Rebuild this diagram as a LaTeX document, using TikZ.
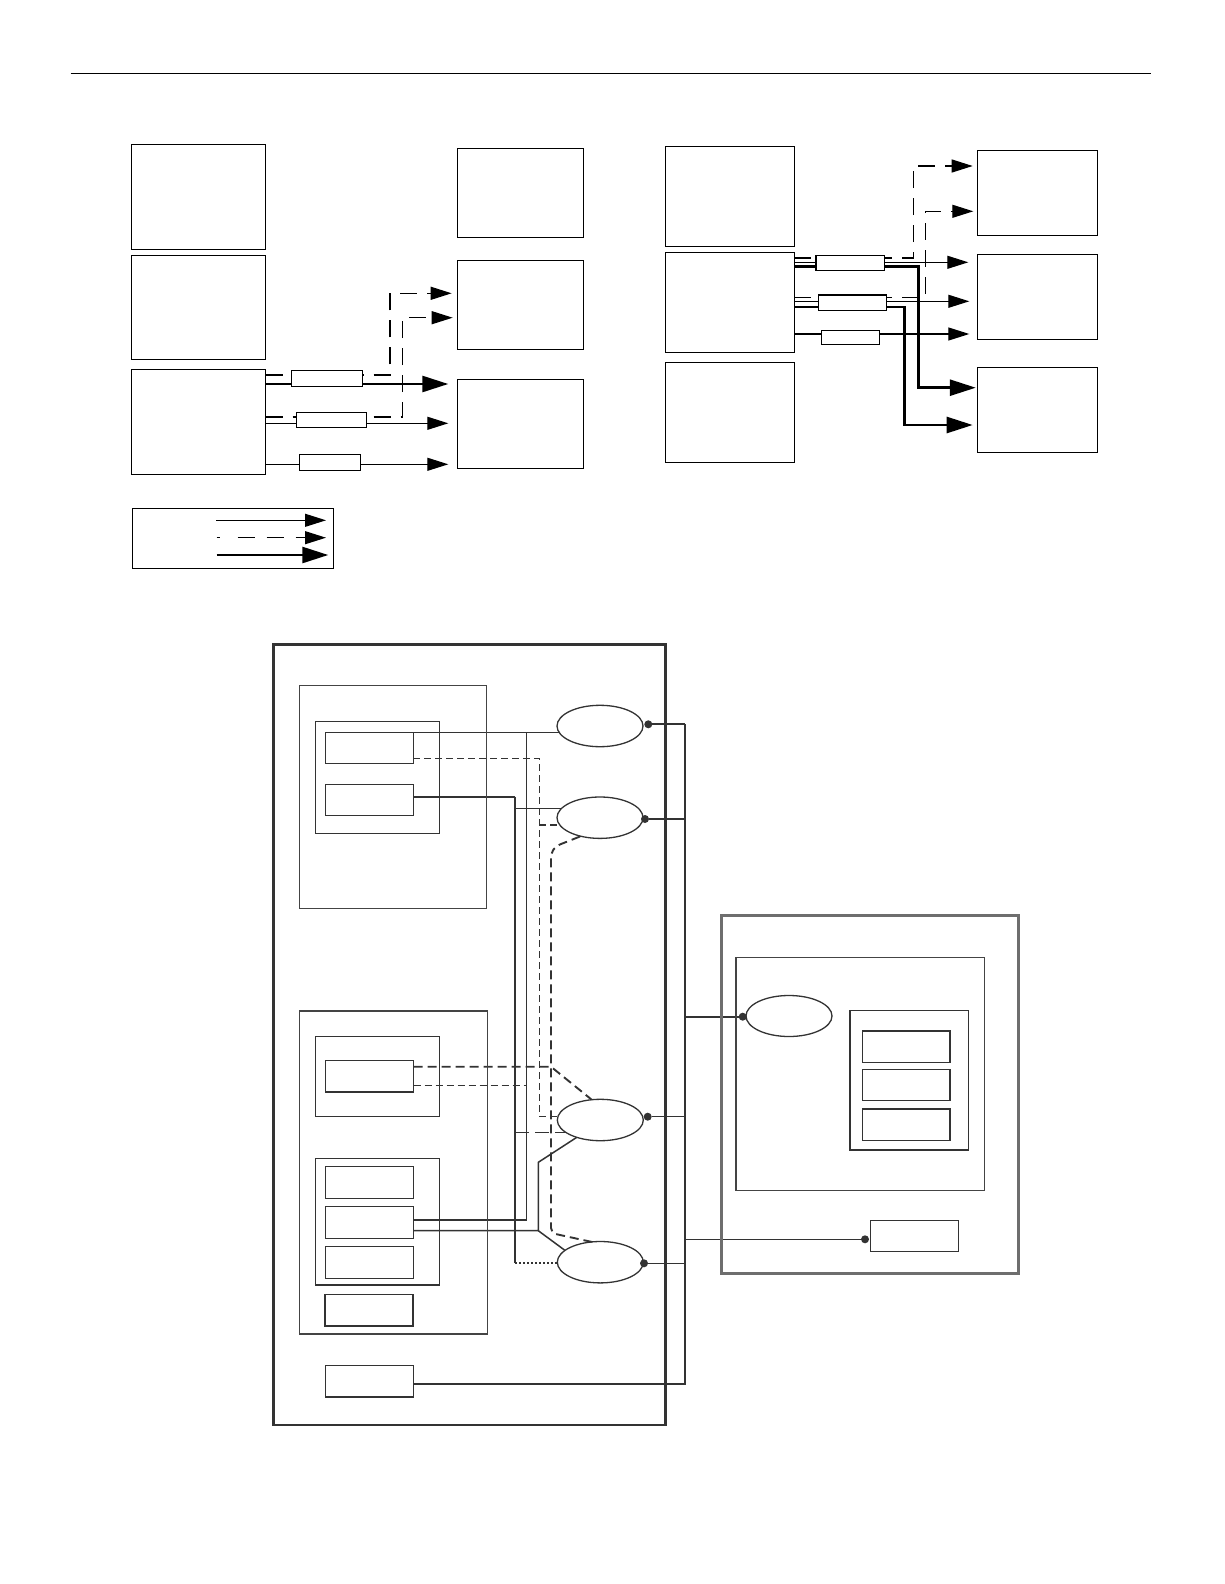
\documentclass[tikz,border=0pt]{standalone}
\usetikzlibrary{arrows.meta,shapes.geometric,calc}
\pgfdeclarelayer{bg}
\pgfsetlayers{bg,main}
\definecolor{dk}{HTML}{333333}
\definecolor{md}{HTML}{444444}
\definecolor{gr}{HTML}{6E6E6E}
\begin{document}
\begin{tikzpicture}[x=1pt,y=-1pt,
  every node/.style={inner sep=0pt,outer sep=0pt},
  sz/.style 2 args={minimum width=#1pt,minimum height=#2pt},
  bigbox/.style={draw=black,line width=1.3pt,rectangle},
  lab/.style={draw=black,line width=1.2pt,fill=white,rectangle},
  thinln/.style={line width=1.2pt},
  thkln/.style={line width=2.6pt},
  dshln/.style={line width=1.2pt,dash pattern=on 17pt off 10pt},
  tipA/.style={-{Triangle[length=21pt,width=13pt]}},
  tipB/.style={-{Triangle[length=26pt,width=16pt]}},
  rbox/.style={draw=dk,line width=1.5pt,rectangle},
  ell/.style={ellipse,draw=dk,line width=1.3pt,minimum width=86pt,minimum height=41.4pt},
  dot/.style={circle,fill=dk,minimum size=8pt},
  ln/.style={draw=dk,line width=1.2pt},
  dshB/.style={draw=dk,line width=1.2pt,dash pattern=on 7pt off 4pt},
  dshT/.style={draw=dk,line width=1.9pt,dash pattern=on 9pt off 5pt},
  ldsh/.style={draw=dk,line width=1.3pt,dash pattern=on 14pt off 6pt},
  dotln/.style={draw=dk,line width=2pt,dash pattern=on 2.4pt off 1.6pt}
]
\useasboundingbox (0,0) rectangle (1224,1584);
% top rule
\draw[line width=0.9pt] (70.7,73.7) -- (1151.3,73.7);

% ---------- top-left ----------
\node[bigbox,sz={134.4}{105}] (A1) at (198.5,196.8) {};
\node[bigbox,sz={134.4}{104}] (A2) at (198.5,307.3) {};
\node[bigbox,sz={134.4}{105}] (A3) at (198.5,421.8) {};
\node[bigbox,sz={126.4}{89}] (B1) at (520.5,192.8) {};
\node[bigbox,sz={126.4}{89}] (B2) at (520.5,304.8) {};
\node[bigbox,sz={126.4}{89}] (B3) at (520.5,423.8) {};
\node[lab,sz={71}{16}] (r1) at (326.8,378.3) {};
\node[lab,sz={70.4}{15}] (r2) at (331.5,419.8) {};
\node[lab,sz={61.4}{16}] (r3) at (330,462.3) {};
\begin{pgfonlayer}{bg}
\draw[dshln,tipA,shorten >=5.6pt] (A3.east |- 0,375) -| (390,293.3) -- (B2.west |- 0,293.3);
\draw[thkln,tipB,shorten >=9pt] (A3.east |- 0,384) -- (B3.west |- 0,384);
\draw[dshln,tipA,shorten >=4.6pt] (A3.east |- 0,417) -| (402.7,317.7) -- (B2.west |- 0,317.7);
\draw[thinln,tipA,shorten >=9pt] (A3.east |- 0,423.3) -- (B3.west |- 0,423.3);
\draw[thinln,tipA,shorten >=9pt] (A3.east |- 0,464.3) -- (B3.west |- 0,464.3);
\end{pgfonlayer}

% ---------- top-right ----------
\node[bigbox,sz={129}{100}] (C1) at (729.8,196.3) {};
\node[bigbox,sz={129}{99.6}] (C2) at (729.8,302.5) {};
\node[bigbox,sz={129}{100}] (C3) at (729.8,412.3) {};
\node[bigbox,sz={120}{85}] (D1) at (1037.3,192.8) {};
\node[bigbox,sz={120}{85}] (D2) at (1037.3,296.8) {};
\node[bigbox,sz={120}{85}] (D3) at (1037.3,409.8) {};
\node[lab,sz={68.3}{15}] (s1) at (850.2,262.8) {};
\node[lab,sz={68.4}{15.3}] (s2) at (852.5,302.7) {};
\node[lab,sz={58}{14}] (s3) at (850.3,337.3) {};
\begin{pgfonlayer}{bg}
\draw[dshln,tipA,shorten >=4.6pt] (C2.east |- 0,258) -| (913.3,166) -- (D1.west |- 0,166);
\draw[thinln,tipA,shorten >=9pt] (C2.east |- 0,262.3) -- (D2.west |- 0,262.3);
\draw[thkln,tipB,shorten >=1.5pt] (C2.east |- 0,266.3) -| (918.7,387.7) -- (D3.west |- 0,387.7);
\draw[dshln,tipA,shorten >=4pt] (C2.east |- 0,297.7) -| (925.3,211.3) -- (D1.west |- 0,211.3);
\draw[thinln,tipA,shorten >=8pt] (C2.east |- 0,301.3) -- (D2.west |- 0,301.3);
\draw[thkln,tipB,shorten >=4.6pt] (C2.east |- 0,307) -| (904.3,425) -- (D3.west |- 0,425);
\draw[thinln,tipA,shorten >=8pt] (C2.east |- 0,334) -- (D2.west |- 0,334);
\end{pgfonlayer}

% ---------- legend ----------
\node[bigbox,sz={200.6}{60}] (LG) at (233,538.3) {};
\draw[thinln,tipA] (216,520.3) -- (326,520.3);
\draw[dshln,dash pattern=on 3pt off 18pt on 17pt off 12pt on 17pt off 12pt on 17pt off 3pt,tipA] (216.7,537.7) -- (326,537.7);
\draw[thkln,tipB] (216.7,555) -- (328.3,555);

% ---------- bottom-left system ----------
\node[draw=dk,line width=2.5pt,sz={392}{780.7}] (E) at (469.7,1034.7) {};
\node[draw=md,line width=1.2pt,sz={187}{223}] (F) at (393.2,796.8) {};
\node[rbox,sz={124}{112.4}] (G) at (377.3,777.5) {};
\node[rbox,sz={87.6}{31}] (g1) at (369.5,748.2) {};
\node[rbox,sz={87.6}{31}] (g2) at (369.5,800.2) {};
\node[draw=md,line width=1.2pt,sz={188.4}{323}] (K) at (393.5,1172.5) {};
\node[rbox,sz={123.6}{80}] (L) at (377.5,1076.7) {};
\node[rbox,sz={88.4}{31.3}] (l1) at (369.5,1076.3) {};
\node[rbox,sz={123.6}{126.7}] (M) at (377.5,1221.7) {};
\node[rbox,sz={88.4}{31.6}] (m1) at (369.5,1182.5) {};
\node[rbox,sz={88.4}{31.6}] (m2) at (369.5,1222.5) {};
\node[rbox,sz={88.4}{31.6}] (m3) at (369.5,1262.5) {};
\node[rbox,sz={88}{31.7}] (n1) at (369,1310.2) {};
\node[rbox,sz={88}{31.3}] (k1) at (369.7,1381.3) {};
\node[ell] (e1) at (600,726) {};
\node[ell] (e2) at (600,817.7) {};
\node[ell] (e3) at (600.3,1120) {};
\node[ell] (e4) at (600.3,1262.2) {};
\node[dot] (d1) at (648.3,724.3) {};
\node[dot] (d2) at (645,819) {};
\node[dot] (d3) at (647.7,1116.7) {};
\node[dot] (d4) at (644,1263.3) {};

% ---------- right system ----------
\node[draw=gr,line width=3pt,sz={297.3}{358.3}] (H) at (870.3,1094.2) {};
\node[draw=md,line width=1.3pt,sz={248.3}{233.4}] (I) at (860.2,1074) {};
\node[ell,minimum height=41pt] (e5) at (789,1016) {};
\node[rbox,sz={118.3}{139.3}] (J) at (909.2,1080.3) {};
\node[rbox,sz={87.7}{31.3}] (j1) at (906.2,1046.7) {};
\node[rbox,sz={87.7}{31.3}] (j2) at (906.2,1085) {};
\node[rbox,sz={87.7}{31.3}] (j3) at (906.2,1124.7) {};
\node[rbox,sz={88}{31}] (q1) at (914.3,1235.8) {};
\node[dot] (d5) at (742.7,1016.7) {};
\node[dot] (d6) at (865,1239.3) {};

% bus coordinates
\coordinate (b1) at (685,724.3);
\coordinate (b2) at (685,819);
\coordinate (b5) at (685,1016.7);
\coordinate (bm) at (685,1101.7);
\coordinate (b3) at (685,1116.7);
\coordinate (b6) at (685,1239.3);
\coordinate (b4) at (685,1263.3);
\coordinate (bk) at (685,1384);

\begin{pgfonlayer}{bg}
% bus
\draw[draw=dk,line width=2pt] (b1) -- (bm);
\draw[draw=dk,line width=1.3pt] (bm) -- (bk) -- (k1.east |- bk);
\draw[draw=dk,line width=1.9pt] (d1) -- (b1);
\draw[draw=dk,line width=2pt] (d2) -- (b2);
\draw[draw=dk,line width=1.2pt] (d3) -- (b3);
\draw[draw=dk,line width=1.6pt] (d4) -- (b4);
\draw[draw=dk,line width=2.2pt] (b5) -- (d5);
\draw[draw=dk,line width=1.2pt] (b6) -- (d6);

% g1 -> e1, vertical to m2
\draw[ln] (g1.north east) -- (558.8,732.7);
\draw[ln,line width=1.5pt] (526.7,732.7) |- ($(m2.east)+(0,-2.5)$);
% g1 dashed -> e2, e3
\draw[dshB] ($(g1.east)+(0,10.1)$) -| (539.3,1116.7) -- (e3.west |- 0,1116.7);
\draw[dshB] (539.3,825) -- (559.8,825);
% g2 -> e2, e3, e4
\draw[ln,line width=1.9pt] ($(g2.east)+(0,-3.5)$) -- (515,796.7);
\draw[ln,line width=1.5pt] (515,796.7) -- (515,1263.3);
\draw[ln] (515,808.3) -- (561.7,808.3);
\draw[ldsh] (515,1132.3) -- (565.7,1132.3);
\draw[dotln] (515,1263.3) -- (e4.west |- 0,1263.3);
% l1 dashed
\draw[dshT] ($(l1.east)+(0,-9.6)$) -- (551,1066.7) -- (591.7,1099.7);
\draw[dshB] ($(l1.east)+(0,9)$) -- (526.7,1085.3);
% e2 -> e4 dashed
\draw[dshT,rounded corners=5pt] (580,836.5) -- (556,846) -- (551,853) -- (551,1233) -- (591.7,1241.9);
% m2 -> e3, e4
\draw[ln,line width=1.5pt] ($(m2.east)+(0,8.2)$) -- (538.3,1230.7) -- (538.3,1162.3) -- (576.5,1137.5);
\draw[ln,line width=1.5pt] (538.3,1230.7) -- (565,1250.4);
\end{pgfonlayer}
\end{tikzpicture}
\end{document}
